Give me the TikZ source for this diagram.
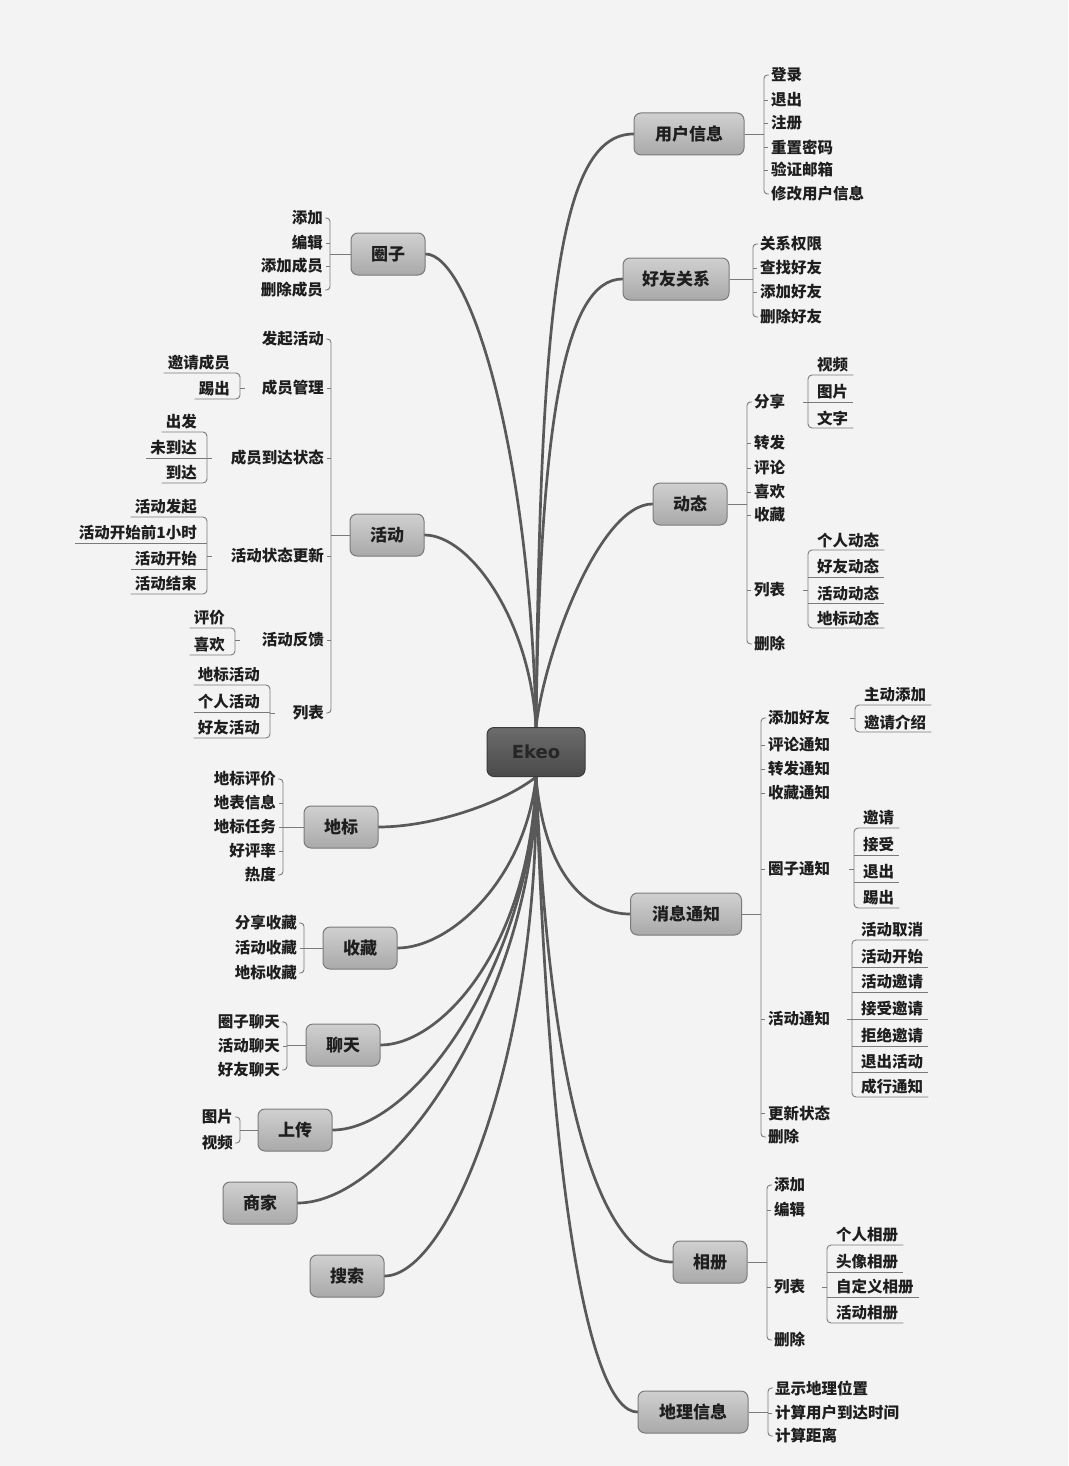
\documentclass[tikz,border=0pt]{standalone}
\usepackage{fontspec}
\newfontfamily\cjk{Noto Sans CJK SC}
\newfontfamily\ekeofont{DejaVu Sans}
\definecolor{bgc}{HTML}{F3F3F3}
\definecolor{linec}{HTML}{595959}
\definecolor{brc}{HTML}{7A7A7A}
\definecolor{txt}{HTML}{1E1E1E}
\definecolor{nodetop}{HTML}{D0D0D0}
\definecolor{nodebot}{HTML}{A9A9A9}
\definecolor{nodeedge}{HTML}{7A7A7A}
\definecolor{roottop}{HTML}{6C6C6C}
\definecolor{rootbot}{HTML}{4A4A4A}
\definecolor{rootedge}{HTML}{3A3A3A}
\definecolor{roottxt}{HTML}{262626}
\pgfdeclarelayer{bg}
\pgfsetlayers{bg,main}
\tikzset{
  topic/.style={rectangle, rounded corners=7pt, draw=nodeedge, line width=1pt,
    top color=nodetop, bottom color=nodebot, minimum height=42pt, minimum width=74pt,
    inner sep=0pt, text=txt, font=\cjk\bfseries\fontsize{17}{20}\selectfont},
  rootnode/.style={rectangle, rounded corners=7pt, draw=rootedge, line width=1pt,
    top color=roottop, bottom color=rootbot, minimum height=49pt, minimum width=98pt,
    inner sep=0pt, text=roottxt, font=\ekeofont\bfseries\fontsize{18}{21}\selectfont},
  leaf/.style={inner sep=0pt, text=txt, font=\cjk\bfseries\fontsize{15.5}{18}\selectfont},
  br/.style={draw=brc, line width=0.9pt},
  conn/.style={draw=linec, line width=2.7pt, line cap=round}
}
% right second-level group: prefix, parent, bracket x, count, list
\newcommand\RG[5]{%
  \coordinate (#1b) at (#3,0);
  \foreach \yy/\tx [count=\i] in {#5}{%
    \node[leaf,anchor=west] (#1\i) at (#3+7,\yy) {\tx};
    \coordinate (#1k\i) at (#3,\yy);
    \ifnum\i>1\relax\ifnum\i<#4\relax\draw[br] (#1k\i) -- ++(4,0);\fi\fi
  }%
  \draw[br,rounded corners=3.5pt] ([xshift=5pt]#1k1) -- (#1k1) -- (#1k#4) -- ([xshift=5pt]#1k#4);
  \draw[br] (#2.east) -- (#2.east -| #1b);
}
% left second-level group
\newcommand\LG[5]{%
  \coordinate (#1b) at (#3,0);
  \foreach \yy/\tx [count=\i] in {#5}{%
    \node[leaf,anchor=east] (#1\i) at (#3-7,\yy) {\tx};
    \coordinate (#1k\i) at (#3,\yy);
    \ifnum\i>1\relax\ifnum\i<#4\relax\draw[br] (#1k\i) -- ++(-4,0);\fi\fi
  }%
  \draw[br,rounded corners=3.5pt] ([xshift=-5pt]#1k1) -- (#1k1) -- (#1k#4) -- ([xshift=-5pt]#1k#4);
  \draw[br] (#2.west) -- (#2.west -| #1b);
}
% right third-level group (underlined items)
\newcommand\RT[5]{%
  \coordinate (#1v) at (#3,0);
  \foreach \yy/\tx [count=\i] in {#5}{%
    \node[leaf,anchor=west] (#1\i) at (#3+9,\yy) {\tx};
    \coordinate (#1u\i) at (#3,\yy+10);
    \coordinate (#1e\i) at ([xshift=5pt]#1\i.east);
    \ifnum\i>1\relax\ifnum\i<#4\relax\draw[br] (#1u\i) -- (#1e\i |- #1u\i);\fi\fi
  }%
  \draw[br,rounded corners=4pt] (#1e1 |- #1u1) -- (#1u1) -- (#1u#4) -- (#1e#4 |- #1u#4);
  \draw[br] (#2.east -| #1v) -- ++(-5,0);
}
% left third-level group (underlined items)
\newcommand\LT[5]{%
  \coordinate (#1v) at (#3,0);
  \foreach \yy/\tx [count=\i] in {#5}{%
    \node[leaf,anchor=east] (#1\i) at (#3-10,\yy) {\tx};
    \coordinate (#1u\i) at (#3,\yy+10);
    \coordinate (#1e\i) at ([xshift=-4pt]#1\i.west);
    \ifnum\i>1\relax\ifnum\i<#4\relax\draw[br] (#1u\i) -- (#1e\i |- #1u\i);\fi\fi
  }%
  \draw[br,rounded corners=4pt] (#1e1 |- #1u1) -- (#1u1) -- (#1u#4) -- (#1e#4 |- #1u#4);
  \draw[br] (#2.west -| #1v) -- ++(5,0);
}
\begin{document}
\begin{tikzpicture}[x=1pt,y=-1pt]
\begin{pgfonlayer}{bg}
\fill[bgc] (0,0) rectangle (1068,1466);
\end{pgfonlayer}
\useasboundingbox (0,0) rectangle (1068,1466);

% root and topics
\node[rootnode] (root) at (536,752) {Ekeo};
\node[topic, minimum width=110pt] (U) at (689,134) {用户信息};
\node[topic, minimum width=106pt] (F) at (676,279) {好友关系};
\node[topic] (Q) at (388,254) {圈子};
\node[topic] (H) at (387,535) {活动};
\node[topic] (D) at (690,504) {动态};
\node[topic] (B) at (341,827) {地标};
\node[topic] (S) at (360,948) {收藏};
\node[topic] (L) at (343,1045) {聊天};
\node[topic] (P) at (295,1130) {上传};
\node[topic] (K) at (260,1203) {商家};
\node[topic] (R) at (347,1276) {搜索};
\node[topic, minimum width=111pt] (M) at (686,914) {消息通知};
\node[topic] (A) at (710,1262) {相册};
\node[topic, minimum width=110pt] (G) at (693,1412) {地理信息};

% connectors from root
\begin{pgfonlayer}{bg}
\draw[conn] (root.north) .. controls (540,300) and (560,134) .. (U.west);
\draw[conn] (root.north) .. controls (540,420) and (565,279) .. (F.west);
\draw[conn] (root.north) .. controls (545,650) and (600,504) .. (D.west);
\draw[conn] (root.north) .. controls (530,450) and (470,254) .. (Q.east);
\draw[conn] (root.north) .. controls (530,620) and (470,535) .. (H.east);
\draw[conn] (root.south) .. controls (500,805) and (430,827) .. (B.east);
\draw[conn] (root.south) .. controls (525,880) and (450,948) .. (S.east);
\draw[conn] (root.south) .. controls (530,950) and (440,1045) .. (L.east);
\draw[conn] (root.south) .. controls (535,950) and (420,1130) .. (P.east);
\draw[conn] (root.south) .. controls (538,980) and (400,1203) .. (K.east);
\draw[conn] (root.south) .. controls (540,1050) and (450,1276) .. (R.east);
\draw[conn] (root.south) .. controls (545,880) and (590,914) .. (M.west);
\draw[conn] (root.south) .. controls (550,1100) and (600,1262) .. (A.west);
\draw[conn] (root.south) .. controls (550,1200) and (590,1412) .. (G.west);
\end{pgfonlayer}

% right side groups
\RG{ui}{U}{764}{6}{75/登录, 100/退出, 123/注册, 147/重置密码, 170/验证邮箱, 194/修改用户信息}
\RG{fr}{F}{753}{4}{244/关系权限, 268/查找好友, 292/添加好友, 317/删除好友}
\RG{dt}{D}{747}{7}{402/分享, 443/转发, 468/评论, 492/喜欢, 515/收藏, 590/列表, 644/删除}
\RT{dtA}{dt1}{808}{3}{365/视频, 392/图片, 418/文字}
\RT{dtB}{dt6}{808}{4}{540/个人动态, 567/好友动态, 593/活动动态, 618/地标动态}
\RG{msg}{M}{761}{8}{718/添加好友, 745/评论通知, 769/转发通知, 793/收藏通知, 869/圈子通知, 1019/活动通知, 1113/更新状态, 1137/删除}
\RT{msgA}{msg1}{855}{2}{695/主动添加, 722/邀请介绍}
\RT{msgB}{msg5}{854}{4}{818/邀请, 845/接受, 872/退出, 898/踢出}
\RT{msgC}{msg6}{852}{7}{930/活动取消, 957/活动开始, 982/活动邀请, 1009/接受邀请, 1036/拒绝邀请, 1062/退出活动, 1087/成行通知}
\RG{al}{A}{767}{4}{1185/添加, 1210/编辑, 1287/列表, 1340/删除}
\RT{alB}{al3}{827}{4}{1235/个人相册, 1262/头像相册, 1287/自定义相册, 1313/活动相册}
\RG{geo}{G}{768}{3}{1388/显示地理位置, 1413/计算用户到达时间, 1436/计算距离}

% left side groups
\LG{qz}{Q}{330}{4}{218/添加, 243/编辑, 266/添加成员, 290/删除成员}
\LG{hd}{H}{331}{6}{339/发起活动, 388/成员管理, 458/成员到达状态, 556/活动状态更新, 640/活动反馈, 713/列表}
\LT{hdA}{hd2}{240}{2}{363/邀请成员, 389/踢出}
\LT{hdB}{hd3}{207}{3}{422/出发, 448/未到达, 473/到达}
\LT{hdC}{hd4}{207}{4}{507/活动发起, 533/活动开始前1小时, 559/活动开始, 584/活动结束}
\LT{hdD}{hd5}{235}{2}{618/评价, 645/喜欢}
\LT{hdE}{hd6}{270}{3}{675/地标活动, 702/个人活动, 728/好友活动}
\LG{db}{B}{283}{5}{779/地标评价, 803/地表信息, 827/地标任务, 851/好评率, 875/热度}
\LG{sc}{S}{304}{3}{923/分享收藏, 948/活动收藏, 973/地标收藏}
\LG{lt}{L}{287}{3}{1022/圈子聊天, 1046/活动聊天, 1070/好友聊天}
\LG{up}{P}{240}{2}{1117/图片, 1143/视频}
\end{tikzpicture}
\end{document}
